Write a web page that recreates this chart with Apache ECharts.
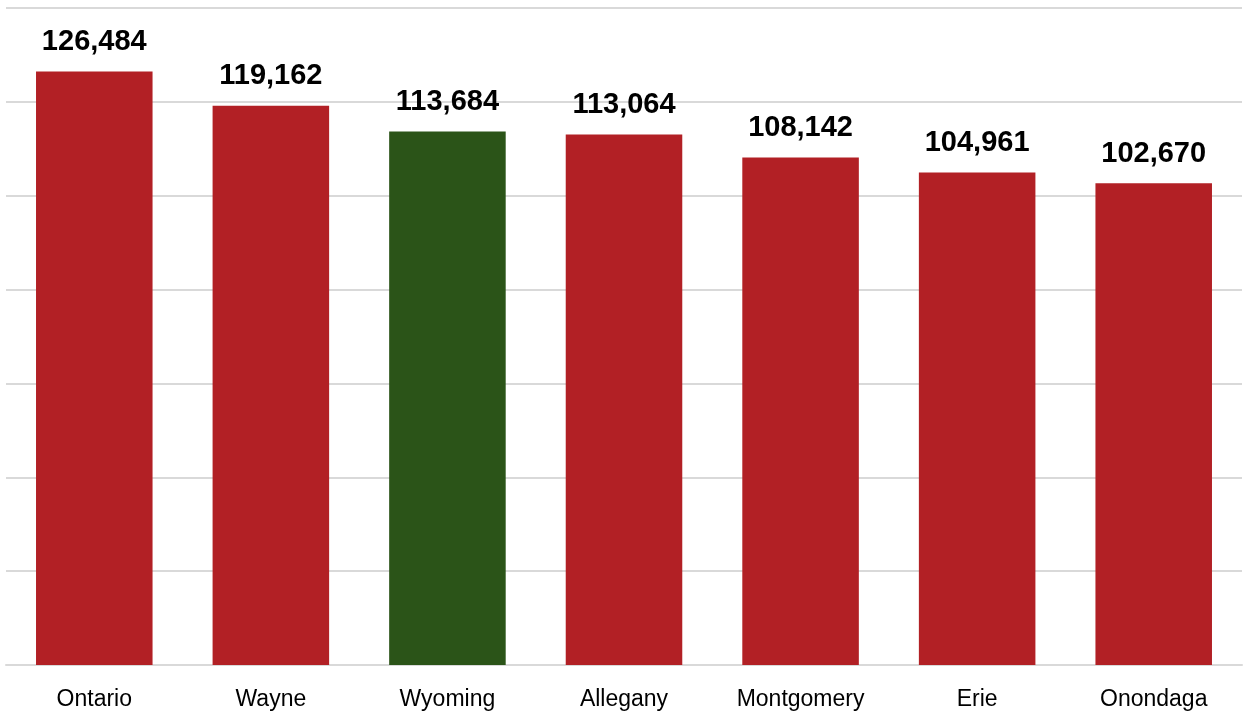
<!DOCTYPE html>
<html>
<head>
<meta charset="utf-8">
<script src="https://cdn.jsdelivr.net/npm/echarts@6/dist/echarts.min.js"></script>
<style>
html,body{margin:0;padding:0;background:#fff;}
#c{width:1247px;height:715px;}
</style>
</head>
<body>
<div id="c"></div>
<script>
const categories = ["Ontario","Wayne","Wyoming","Allegany","Montgomery","Erie","Onondaga"];
const values = [126484,119162,113684,113064,108142,104961,102670];
const highlight = "Wyoming";

const chart = echarts.init(document.getElementById('c'));
chart.setOption({
  animation:false,
  grid:{left:6,right:5,top:8,bottom:50,containLabel:false},
  xAxis:{
    type:'category',
    data:categories,
    axisLine:{lineStyle:{color:'#D9D9D9',width:2}},
    axisTick:{show:false},
    axisLabel:{color:'#000',fontFamily:'Liberation Sans',fontSize:23,margin:23}
  },
  yAxis:{
    type:'value',min:0,max:140000,interval:20000,
    axisLabel:{show:false},
    axisLine:{show:false},axisTick:{show:false},
    splitLine:{lineStyle:{color:'#D9D9D9',width:2}}
  },
  series:[{
    type:'bar',
    barCategoryGap:'34%',
    data:values.map((v,i)=>({value:v,itemStyle:{color:categories[i]===highlight?'#2B5418':'#B22025'}})),
    label:{
      show:true,position:'top',distance:15,
      color:'#000',fontFamily:'Liberation Sans',fontWeight:'bold',fontSize:29,
      formatter:p=>p.value.toLocaleString('en-US')
    }
  }]
});
</script>
</body>
</html>
